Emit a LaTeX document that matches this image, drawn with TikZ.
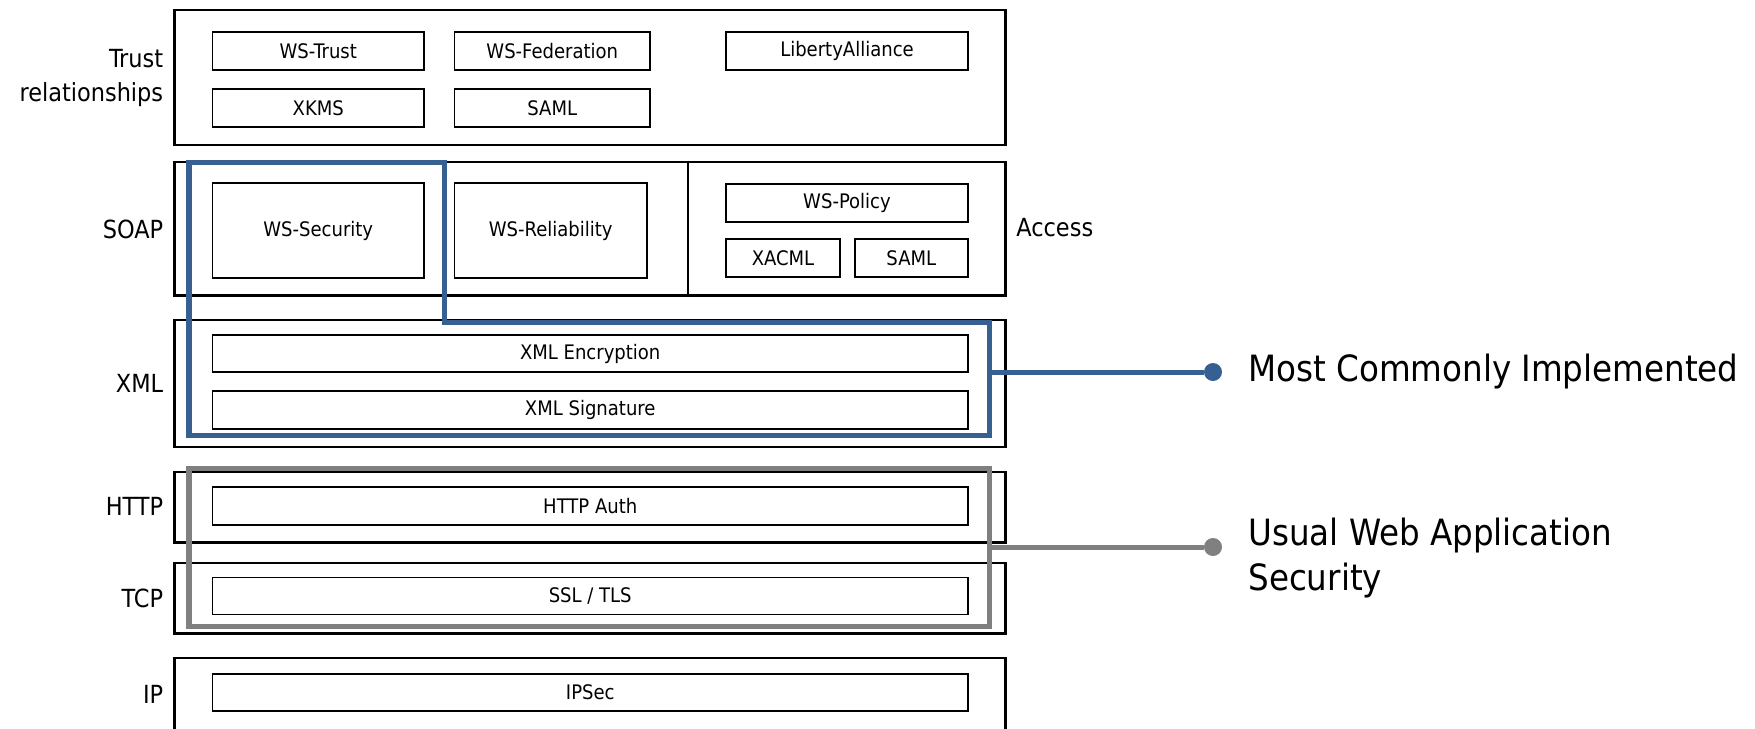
\documentclass[tikz,border=0pt]{standalone}
\usepackage{fontspec}
\setmainfont{DejaVu Sans Condensed}
\usepackage{tikz}
\usetikzlibrary{positioning,fit,calc}
\definecolor{mostblue}{RGB}{55,96,146}
\definecolor{usualgray}{RGB}{128,128,128}
\tikzstyle{layer}=[draw, line width=1.6pt, inner sep=0pt]
\tikzstyle{inbox}=[draw, line width=1pt, inner sep=0pt]
\tikzstyle{intext}=[inner sep=0pt, font=\fontsize{11.4}{13}\selectfont]
\tikzstyle{lab}=[inner sep=0pt, font=\fontsize{14.2}{18.8}\selectfont]
\tikzstyle{bigtext}=[inner sep=0pt, anchor=west, align=left, font=\fontsize{20.6}{25.6}\selectfont]
\tikzstyle{mostline}=[draw=mostblue, line width=2.85pt]
\tikzstyle{usualline}=[draw=usualgray, line width=2.85pt]
\tikzstyle{enddot}=[circle, inner sep=0pt, minimum size=0.36cm]

\begin{document}
\begin{tikzpicture}[x=0.02cm,y=-0.02cm]

\clip (0,0) rectangle (1755,728);

% layers
\node[layer, fit={(174.6,10) (1005.5,145)}] (trust) {};
\node[layer, fit={(174.6,162) (1005.5,295.5)}] (soap) {};
\node[layer, fit={(174.6,320) (1005.5,447)}] (xml) {};
\node[layer, fit={(174.6,472) (1005.5,542.5)}] (http) {};
\node[layer, fit={(174.6,563) (1005.5,633.5)}] (tcp) {};
\node[layer, fit={(174.6,658) (1005.5,800)}] (ip) {};
\draw[line width=1.6pt] (688,0 |- soap.north) -- (688,0 |- soap.south);

\node[lab, anchor=east, align=right] (ltrust) at (163.5,78) {Trust\\relationships};
\node[lab, anchor=east] (lsoap) at (163.5,229) {SOAP};
\node[lab, anchor=east] (lxml) at (163.5,383) {XML};
\node[lab, anchor=east] (lhttp) at (163.5,506) {HTTP};
\node[lab, anchor=east] (ltcp) at (163.5,598) {TCP};
\node[lab, anchor=east] (lip) at (163.5,694) {IP};
\node[lab, anchor=west] (laccess) at (1016,228) {Access};

% trust
\node[inbox, fit={(212.5,32.3) (424,70.3)}, label={[intext]center:WS-Trust}] (wstrust) {};
\node[inbox, fit={(454.5,32.3) (650,70.3)}, label={[intext]center:WS-Federation}] (wsfed) {};
\node[inbox, fit={(726,32.3) (968,70.3)}, label={[intext]center:LibertyAlliance}] (liberty) {};
\node[inbox, fit={(212.5,88.7) (424,127)}, label={[intext]center:XKMS}] (xkms) {};
\node[inbox, fit={(454.5,88.7) (650,127)}, label={[intext]center:SAML}] (samltrust) {};

% soap
\node[inbox, fit={(212.5,183) (424,278)}, label={[intext]center:WS-Security}] (wssec) {};
\node[inbox, fit={(454.5,183) (647,278)}, label={[intext]center:WS-Reliability}] (wsrel) {};
\node[inbox, fit={(726,184.3) (968,222.3)}, label={[intext]center:WS-Policy}] (wspol) {};
\node[inbox, fit={(726,239) (840,277)}, label={[intext]center:XACML}] (xacml) {};
\node[inbox, fit={(854.7,239) (968,277)}, label={[intext]center:SAML}] (samlacc) {};

% full width boxes
\foreach \n/\ya/\yb/\t in {xmlenc/334.7/372.3/{XML Encryption}, xmlsig/390.7/429/{XML Signature},
    httpauth/487/525/{HTTP Auth}, ssltls/577.5/614.5/{SSL / TLS}, ipsec/674/711/{IPSec}}
    \node[inbox, fit={(212.5,\ya) (968,\yb)}, label={[intext]center:\t}] (\n) {};

% most commonly implemented
\draw[mostline] (189,162) -- (444,162) -- (444,322.7) -- (989,322.7) -- (989,435) -- (189,435) -- cycle;
\coordinate (mostend) at (989,372);
\node[enddot, fill=mostblue] (mostdot) at (1213,372) {};
\draw[mostline] (mostend) -- (mostdot);
\node[bigtext] (most) at (1248,372) {Most Commonly Implemented};

% usual web application security
\draw[usualline] (189,468) rectangle (989,626);
\coordinate (usualend) at (989,547);
\node[enddot, fill=usualgray] (usualdot) at (1213,547) {};
\draw[usualline] (usualend) -- (usualdot);
\node[bigtext] (usual) at (1248,558) {Usual Web Application\\Security};

\end{tikzpicture}
\end{document}
